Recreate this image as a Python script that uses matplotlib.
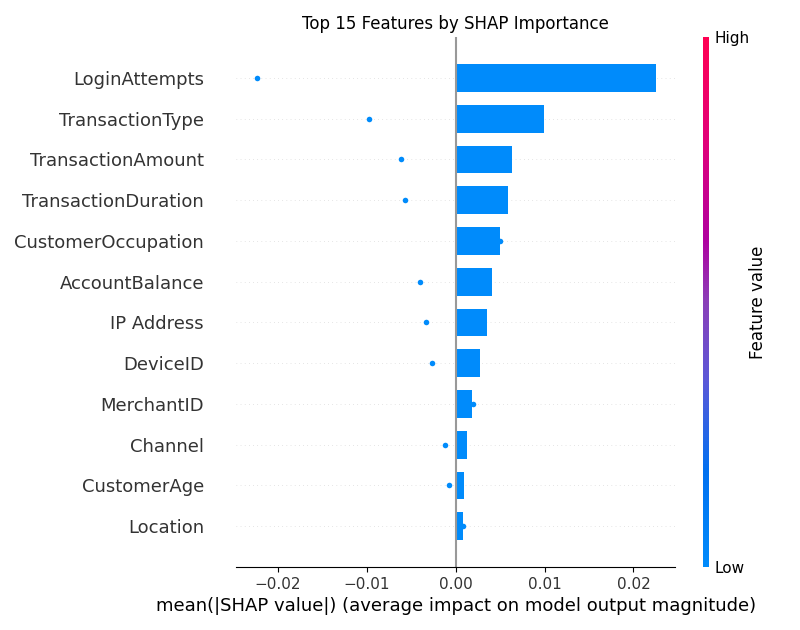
import matplotlib
matplotlib.use("Agg")
import matplotlib.pyplot as plt
import numpy as np
from matplotlib.colors import LinearSegmentedColormap
from matplotlib.cm import ScalarMappable

features = ["LoginAttempts", "TransactionType", "TransactionAmount", "TransactionDuration",
            "CustomerOccupation", "AccountBalance", "IP Address", "DeviceID",
            "MerchantID", "Channel", "CustomerAge", "Location"]
mean_abs_shap = [0.02255, 0.00992, 0.00631, 0.00586, 0.00496, 0.00406,
                 0.00350, 0.00270, 0.00190, 0.00124, 0.00090, 0.00080]
shap_values = [-0.02233, -0.00974, -0.00614, -0.00570, 0.00502, -0.00401,
               -0.00333, -0.00266, 0.00199, -0.00120, -0.00075, 0.00086]

blue = "#008bfb"
cmap = LinearSegmentedColormap.from_list(
    "red_blue",
    [(0.0, "#008bfb"), (0.18, "#0070f0"), (0.35, "#5a58d8"), (0.5, "#8a3fb8"),
     (0.62, "#b0009f"), (0.8, "#e0007a"), (1.0, "#ff0052")])

fig = plt.figure(figsize=(8, 6.3), dpi=100)
ax = fig.add_axes([0.295, 0.1, 0.549, 0.841])

n = len(features)
ypos = np.arange(n)[::-1]

for y in ypos:
    ax.axhline(y=y, color="#cccccc", lw=0.5, dashes=(1, 5), zorder=-1)

ax.barh(ypos, mean_abs_shap, height=0.68, color=blue, zorder=1)
ax.axvline(x=0, color="#999999", lw=1.5, zorder=2)
ax.scatter(shap_values, ypos, s=16, color=blue, zorder=3, linewidths=0)

ax.set_ylim(-1, n)
ax.set_xlim(-0.0247, 0.0247)
ax.set_yticks(ypos)
ax.set_yticklabels(features, fontsize=13)
ax.tick_params(axis="y", length=0, pad=23, labelcolor="#333333")
ax.tick_params(axis="x", labelsize=11, labelcolor="#333333")
for s in ["left", "right", "top"]:
    ax.spines[s].set_visible(False)
ax.set_xlabel("mean(|SHAP value|) (average impact on model output magnitude)", fontsize=13)
ax.set_title("Top 15 Features by SHAP Importance", fontsize=12)

cax = fig.add_axes([0.879, 0.1, 0.0075, 0.841])
sm = ScalarMappable(cmap=cmap)
sm.set_array([0, 1])
cb = fig.colorbar(sm, cax=cax, ticks=[0, 1])
cb.set_ticklabels(["Low", "High"])
cb.ax.tick_params(labelsize=11, length=0)
cb.set_label("Feature value", size=12, labelpad=0)
cb.outline.set_visible(False)

fig.savefig("out.png", dpi=100)
